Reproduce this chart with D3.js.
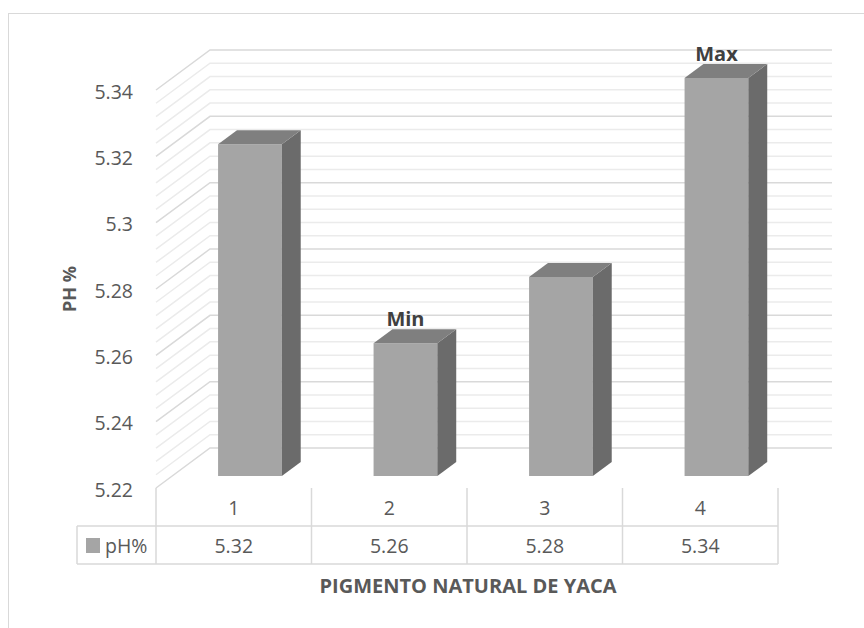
<!DOCTYPE html>
<html>
<head>
<meta charset="utf-8">
<script src="https://cdn.jsdelivr.net/npm/d3@7"></script>
<style>
  body { margin: 0; background: #fff; }
  text { font-family: "Open Sans", "Liberation Sans", sans-serif; }
</style>
</head>
<body>
<div id="chart"></div>
<script>
// pH of the natural jackfruit pigment, 3D-look column chart with data table

const categories = ["1", "2", "3", "4"];
const phValues = [5.32, 5.26, 5.28, 5.34];
const seriesName = "pH%";
const valueLabels = ["5.32", "5.26", "5.28", "5.34"];
const markLabels = ["", "Min", "", "Max"];
const yTicks = [5.22, 5.24, 5.26, 5.28, 5.3, 5.32, 5.34];
const yTickLabels = ["5.22", "5.24", "5.26", "5.28", "5.3", "5.32", "5.34"];

const width = 864, height = 628;
const plot = { left: 156, right: 778, top: 90, bottom: 488 };
const depth = { dx: 54, dy: -40 };   // offset of the back wall
const barDepth = [0.3, 0.65];        // front / back of the columns

const svg = d3.select("#chart").append("svg")
    .attr("width", width)
    .attr("height", height);

// chart frame (runs off the right and bottom of the picture)
svg.append("rect")
    .attr("x", 8.5).attr("y", 13.5)
    .attr("width", 900).attr("height", 700)
    .attr("fill", "none").attr("stroke", "#d9d9d9");

const x = d3.scaleBand()
    .domain(categories)
    .range([plot.left, plot.right]);

const y = d3.scaleLinear()
    .domain([5.22, 5.34])
    .range([plot.bottom, plot.top]);

// point at a given category x, value and depth (0 = front, 1 = back wall)
const pt = (px, v, d) => [px + d * depth.dx, y(v) + d * depth.dy];

// wall gridlines: minor every 0.004, major every 0.02
const grid = d3.range(0, 31).map(i => +(5.22 + i * 0.004).toFixed(3));
const isMajor = v => yTicks.some(t => Math.abs(t - v) < 1e-6);

const walls = svg.append("g").attr("fill", "none");
grid.slice().sort((a, b) => isMajor(a) - isMajor(b)).forEach(v => {
    const a = pt(plot.left, v, 0), b = pt(plot.left, v, 1), c = pt(plot.right, v, 1);
    walls.append("path")
        .attr("d", d3.line()([a, b, c]))
        .attr("stroke", isMajor(v) ? "#d9d9d9" : "#ebebeb")
        .attr("stroke-width", 1.5);
});

// columns
const line = d3.line();
const bars = svg.selectAll(".bar")
    .data(categories.map((c, i) => ({ cat: c, v: phValues[i], mark: markLabels[i] })))
    .join("g")
    .attr("class", "bar");

const bw = x.bandwidth() * 0.41;
const x0 = d => x(d.cat) + (x.bandwidth() - bw) / 2;
const x1 = d => x0(d) + bw;

bars.append("path") // front
    .attr("fill", "#a5a5a5")
    .attr("d", d => line([pt(x0(d), 5.22, barDepth[0]), pt(x1(d), 5.22, barDepth[0]),
                          pt(x1(d), d.v, barDepth[0]), pt(x0(d), d.v, barDepth[0])]) + "Z");
bars.append("path") // side
    .attr("fill", "#6b6b6b")
    .attr("d", d => line([pt(x1(d), 5.22, barDepth[0]), pt(x1(d), 5.22, barDepth[1]),
                          pt(x1(d), d.v, barDepth[1]), pt(x1(d), d.v, barDepth[0])]) + "Z");
bars.append("path") // top
    .attr("fill", "#7f7f7f")
    .attr("d", d => line([pt(x0(d), d.v, barDepth[0]), pt(x1(d), d.v, barDepth[0]),
                          pt(x1(d), d.v, barDepth[1]), pt(x0(d), d.v, barDepth[1])]) + "Z");

bars.filter(d => d.mark).append("text")
    .text(d => d.mark)
    .attr("x", d => (x0(d) + x1(d)) / 2 + barDepth[0] * depth.dx)
    .attr("y", d => y(d.v) + barDepth[0] * depth.dy - 17)
    .attr("text-anchor", "middle")
    .attr("font-size", 20).attr("font-weight", "bold")
    .attr("fill", "#404040");

// value axis labels
svg.append("g").selectAll("text")
    .data(yTicks)
    .join("text")
    .text((d, i) => yTickLabels[i])
    .attr("x", 133)
    .attr("y", d => y(d) + 2)
    .attr("dy", "0.35em")
    .attr("text-anchor", "end")
    .attr("font-size", 19.5)
    .attr("fill", "#595959");

// data table
const row1 = plot.bottom, row2 = 526, row3 = 564, legendLeft = 77;
const tbl = svg.append("g").attr("stroke", "#d9d9d9").attr("stroke-width", 1.5);
[row2, row3].forEach(ry => tbl.append("line")
    .attr("x1", legendLeft).attr("x2", plot.right).attr("y1", ry).attr("y2", ry));
tbl.append("line").attr("x1", legendLeft).attr("x2", legendLeft).attr("y1", row2).attr("y2", row3);
categories.concat([null]).forEach((c, i) => {
    const xx = c === null ? plot.right : x(c);
    tbl.append("line").attr("x1", xx).attr("x2", xx).attr("y1", row1).attr("y2", row3);
});

svg.append("g").selectAll("text")
    .data(categories)
    .join("text")
    .text(d => d)
    .attr("x", d => x(d) + x.bandwidth() / 2)
    .attr("y", (row1 + row2) / 2 + 1)
    .attr("dy", "0.35em")
    .attr("text-anchor", "middle")
    .attr("font-size", 19.5).attr("fill", "#595959");

svg.append("g").selectAll("text")
    .data(categories)
    .join("text")
    .text((d, i) => valueLabels[i])
    .attr("x", d => x(d) + x.bandwidth() / 2)
    .attr("y", (row2 + row3) / 2 + 1)
    .attr("dy", "0.35em")
    .attr("text-anchor", "middle")
    .attr("font-size", 19.5).attr("fill", "#595959");

// legend key in the table
svg.append("rect")
    .attr("x", 86).attr("y", 538).attr("width", 14).attr("height", 15)
    .attr("fill", "#a5a5a5");
svg.append("text")
    .text(seriesName)
    .attr("x", 105).attr("y", (row2 + row3) / 2 + 1)
    .attr("dy", "0.35em")
    .attr("font-size", 19.5).attr("fill", "#595959");

// axis titles
svg.append("text")
    .text("PIGMENTO NATURAL DE YACA")
    .attr("x", 468).attr("y", 593)
    .attr("text-anchor", "middle")
    .attr("font-size", 20).attr("font-weight", "bold")
    .attr("fill", "#595959");

svg.append("text")
    .text("PH %")
    .attr("transform", "translate(76,289) rotate(-90)")
    .attr("text-anchor", "middle")
    .attr("font-size", 18).attr("font-weight", "bold")
    .attr("fill", "#595959");
</script>
</body>
</html>
